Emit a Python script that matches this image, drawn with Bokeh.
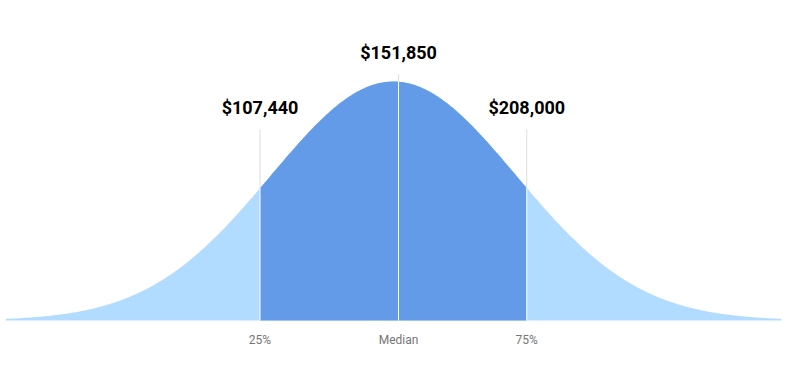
import numpy as np
from bokeh.plotting import figure
from bokeh.models import Range1d, ColumnDataSource
from bokeh.core.properties import value
from bokeh.embed import file_html
from bokeh.resources import INLINE

# data
marker_labels = ["25%", "Median", "75%"]
marker_values = ["$107,440", "$151,850", "$208,000"]
marker_pos = [-1.088, 0.041, 1.086]      # position along the curve, in spread units
curve_start, curve_end = -3.16, 3.16

LIGHT = "#b2dcff"
DARK = "#639be9"

W, H = 785, 368
PX = 122.7   # pixels per spread unit (x)
PY = 239.0   # pixels per unit height (y)
x0 = -393 / PX
y0 = -48 / PY
p = figure(width=W, height=H, output_backend="svg", toolbar_location=None,
           x_range=Range1d(x0, x0 + W / PX),
           y_range=Range1d(y0, y0 + H / PY),
           min_border=0, outline_line_color=None)
p.axis.visible = False
p.grid.visible = False
p.background_fill_color = "white"
p.border_fill_color = "white"

xs = np.linspace(curve_start, curve_end, 600)
ys = np.exp(-0.5 * xs ** 2)
p.varea(x=xs, y1=np.zeros_like(xs), y2=ys, fill_color=LIGHT)

mask = (xs >= marker_pos[0]) & (xs <= marker_pos[2])
xd = np.concatenate([[marker_pos[0]], xs[mask], [marker_pos[2]]])
yd = np.exp(-0.5 * xd ** 2)
p.varea(x=xd, y1=np.zeros_like(xd), y2=yd, fill_color=DARK)

tops = [0.80, 1.03, 0.80]
curve_h = [float(np.exp(-0.5 * x ** 2)) for x in marker_pos]
p.segment(x0=marker_pos, y0=curve_h, x1=marker_pos, y1=tops, line_color="#dddddd", line_width=1)
p.segment(x0=marker_pos, y0=[0] * 3, x1=marker_pos, y1=curve_h, line_color="#ffffff", line_width=1)

label_y = [0.891, 1.121, 0.891]
src = ColumnDataSource(dict(x=marker_pos, y=label_y, t=marker_values))
p.text(x="x", y="y", text="t", source=src, text_font=value("Roboto"),
       text_font_style="bold", text_font_size="18px", text_color="#000000",
       text_align="center", text_baseline="middle")

src2 = ColumnDataSource(dict(x=marker_pos, y=[-0.083] * 3, t=marker_labels))
p.text(x="x", y="y", text="t", source=src2, text_font=value("Roboto"),
       text_font_size="12px", text_color="#757575",
       text_align="center", text_baseline="middle")

open("out.html", "w").write(file_html(p, INLINE))
